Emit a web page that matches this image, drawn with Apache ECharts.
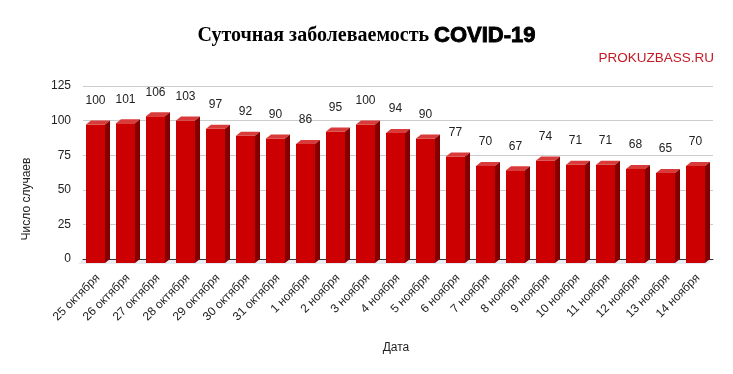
<!DOCTYPE html>
<html>
<head>
<meta charset="utf-8">
<script src="https://cdn.jsdelivr.net/npm/echarts@6/dist/echarts.min.js"></script>
<style>html,body{margin:0;padding:0;background:#fff}#c{width:733px;height:374px}</style>
</head>
<body>
<div id="c"></div>
<script>
const categories = ['25 октября','26 октября','27 октября','28 октября','29 октября','30 октября','31 октября','1 ноября','2 ноября','3 ноября','4 ноября','5 ноября','6 ноября','7 ноября','8 ноября','9 ноября','10 ноября','11 ноября','12 ноября','13 ноября','14 ноября'];
const values = [100,101,106,103,97,92,90,86,95,100,94,90,77,70,67,74,71,71,68,65,70];
const yTicks = [0,25,50,75,100,125];
</script>
<script>
const chart = echarts.init(document.getElementById('c'), null, {renderer: 'canvas'});
const DX = 5, DY = 4, W = 19, OFF = 12;
function barItem(params, api) {
  const x = api.value(0), v = api.value(1);
  const top = api.coord([x, v]);
  const base = api.coord([x, 0]);
  const x0 = top[0] - OFF, y = top[1], b = base[1];
  return {
    type: 'group',
    children: [
      {type: 'polygon', shape: {points: [[x0, y + DY], [x0 + W, y + DY], [x0 + W, b + DY], [x0, b + DY]]}, style: {fill: '#cc0000'}},
      {type: 'polygon', shape: {points: [[x0, y + DY], [x0 + W, y + DY], [x0 + W + DX, y], [x0 + DX, y]]}, style: {fill: '#d93a3a'}},
      {type: 'polygon', shape: {points: [[x0 + W, y + DY], [x0 + W + DX, y], [x0 + W + DX, b], [x0 + W, b + DY]]}, style: {fill: '#840000'}},
      {type: 'text', style: {text: String(v), x: x0 + W / 2, y: y - 20, align: 'center', verticalAlign: 'middle', fill: '#222', font: '12px "Liberation Sans", Arial, sans-serif'}}
    ]
  };
}
function floorItem(params, api) {
  const x = api.value(0);
  const base = api.coord([x, 0]);
  const bw = api.size([1, 0])[0];
  const l = base[0] - bw / 2, r = base[0] + bw / 2, b = base[1];
  return {type: 'polygon', shape: {points: [[l, b], [r, b], [r - DX, b + DY + 1], [l - DX, b + DY + 1]]}, style: {fill: '#e8ecf2'}};
}
const data = values.map((v, i) => [i, v]);
chart.setOption({
  animation: false,
  title: {
    text: '{a|Суточная заболеваемость} {b|COVID-19}',
    left: 'center', top: 18,
    textStyle: {
      rich: {
        a: {fontFamily: '"Liberation Serif", "Times New Roman", serif', fontSize: 20, color: '#000', lineHeight: 26},
        b: {fontFamily: '"Liberation Sans", Arial, sans-serif', fontWeight: 'bold', fontSize: 22, color: '#000', lineHeight: 26, textBorderColor: '#000', textBorderWidth: 0.9}
      }
    }
  },
  graphic: [
    {type: 'text', right: 19, top: 51, style: {text: 'PROKUZBASS.RU', fill: '#c41a24', font: '13.5px "Liberation Sans", Arial, sans-serif'}},
    {type: 'text', x: 27, y: 199, rotation: Math.PI / 2, style: {text: 'Число случаев', align: 'center', verticalAlign: 'middle', fill: '#222', font: '12px "Liberation Sans", Arial, sans-serif'}},
    {type: 'text', x: 396, y: 348, style: {text: 'Дата', align: 'center', verticalAlign: 'middle', fill: '#222', font: '12px "Liberation Sans", Arial, sans-serif'}}
  ],
  grid: {left: 83, right: 20, top: 86, bottom: 115, containLabel: false},
  xAxis: {
    type: 'category', data: categories, boundaryGap: true,
    axisLine: {show: true, lineStyle: {color: '#333', width: 1}},
    axisTick: {show: false},
    axisLabel: {interval: 0, rotate: 45, margin: 17, color: '#222', fontSize: 12, fontFamily: '"Liberation Sans", Arial, sans-serif'},
    splitLine: {show: false}, z: 1
  },
  yAxis: {
    type: 'value', min: yTicks[0], max: yTicks[yTicks.length - 1], interval: 25,
    axisLine: {show: false}, axisTick: {show: false},
    axisLabel: {margin: 12, color: '#222', fontSize: 12, fontFamily: '"Liberation Sans", Arial, sans-serif'},
    splitLine: {lineStyle: {color: '#cccccc', width: 1}}
  },
  series: [
    {type: 'custom', renderItem: floorItem, data: data, z: 0, silent: true},
    {type: 'custom', renderItem: barItem, data: data, z: 3, clip: false}
  ]
});
</script>
</body>
</html>
